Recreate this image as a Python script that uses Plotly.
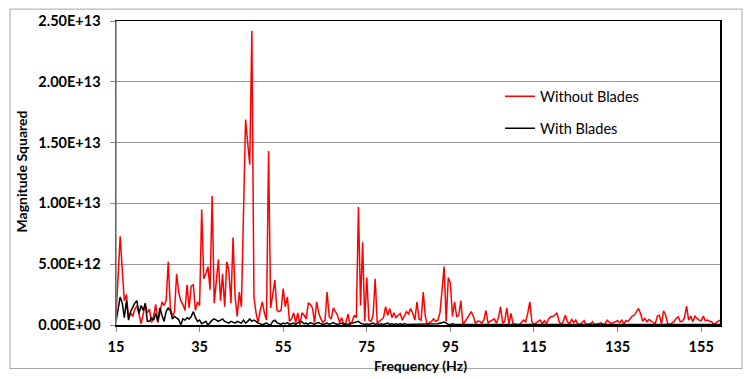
import plotly.graph_objects as go

# Frequency grid (Hz), 0.5 Hz resolution
freq_start = 15.0
freq_step = 0.5

# Magnitude squared, in units of 1E12
without_blades = [
    0.7, 3.5, 7.3, 4.5, 2.0, 2.5, 0.6, 1.0, 0.7, 1.3,
    1.6, 0.9, 0.1, 0.9, 1.7, 1.0, 1.3, 0.2, 0.7, 1.7,
    0.2, 1.0, 1.9, 1.6, 2.0, 5.2, 1.4, 0.7, 1.1, 4.2,
    2.7, 2.0, 1.7, 1.2, 3.3, 1.4, 3.2, 3.3, 1.2, 1.9,
    1.6, 9.5, 3.8, 4.2, 4.8, 2.9, 10.6, 1.8, 3.5, 5.4,
    2.0, 4.2, 1.5, 5.2, 4.5, 1.8, 7.2, 2.3, 0.7, 2.7,
    1.5, 9.0, 16.9, 15.0, 13.2, 24.2, 2.3, 1.0, 0.2, 1.2,
    1.9, 1.0, 0.4, 14.3, 1.4, 2.5, 3.7, 1.2, 1.1, 1.2,
    3.0, 1.5, 2.3, 0.3, 0.5, 1.0, 0.2, 1.0, 0.0, 1.0,
    0.8, 0.5, 1.8, 1.7, 1.4, 0.2, 1.9, 1.0, 0.5, 0.2,
    0.4, 2.7, 0.7, 0.5, 1.4, 1.1, 0.8, 0.2, 0.6, 0.0,
    0.2, 0.9, 0.0, 0.3, 0.8, 0.6, 9.7, 1.6, 6.8, 0.3,
    3.9, 0.4, 0.3, 0.8, 3.8, 0.15, 0.3, 0.4, 0.6, 1.5,
    0.8, 1.35, 0.6, 1.0, 0.6, 0.8, 0.95, 0.4, 0.8, 1.1,
    0.9, 1.35, 0.95, 0.4, 1.9, 0.5, 0.4, 2.7, 0.7, 0.0,
    0.2, 0.3, 0.5, 0.3, 0.4, 1.0, 2.85, 4.8, 0.3, 3.9,
    3.4, 0.7, 1.9, 0.7, 0.8, 2.0, 0.0, 0.3, 0.5, 0.8,
    1.1, 0.7, 0.15, 0.3, 0.3, 0.15, 0.4, 1.2, 0.15, 0.3,
    0.4, 0.5, 0.15, 0.6, 1.5, 0.15, 0.3, 1.4, 0.1, 0.95,
    0.05, 0.1, 0.0, 0.05, 0.2, 0.4, 0.27, 0.95, 1.9, 0.27,
    0.05, 0.15, 0.27, 0.4, 0.1, 0.35, 0.1, 0.5, 0.68, 0.7,
    0.8, 1.0, 0.27, 0.05, 0.3, 0.8, 0.27, 0.1, 0.45, 0.2,
    0.4, 0.1, 0.05, 0.2, 0.35, 0.0, 0.1, 0.1, 0.27, 0.0,
    0.1, 0.1, 0.2, 0.05, 0.1, 0.4, 0.27, 0.1, 0.19, 0.3,
    0.35, 0.19, 0.4, 0.1, 0.35, 0.3, 0.5, 0.73, 0.8, 1.14,
    1.36, 0.95, 0.3, 0.54, 0.27, 0.46, 0.35, 0.2, 0.1, 0.73,
    0.8, 0.1, 1.17, 0.8, 0.1, 0.05, 0.15, 0.27, 0.54, 0.68,
    0.27, 0.3, 0.6, 1.55, 0.4, 0.73, 0.27, 0.73, 0.54, 0.4,
    0.35, 0.73, 0.35, 0.4, 0.3, 0.27, 0.05, 0.19, 0.3, 0.4,
]

with_blades = [
    0.3, 1.5, 2.3, 1.8, 0.6, 2.0, 0.4, 1.1, 1.5, 1.8,
    2.0, 0.95, 1.6, 1.2, 1.8, 0.3, 0.3, 0.6, 0.4, 0.95,
    0.3, 1.4, 0.8, 0.3, 1.1, 1.4, 1.2, 0.5, 0.7, 0.6,
    0.45, 0.0, 0.5, 0.4, 0.6, 0.5, 0.7, 1.1, 0.6, 0.3,
    0.4, 0.1, 0.2, 0.3, 0.0, 0.2, 0.4, 0.5, 0.4, 0.3,
    0.4, 0.5, 0.3, 0.2, 0.15, 0.3, 0.2, 0.15, 0.3, 0.2,
    0.15, 0.4, 0.15, 0.3, 0.5, 0.3, 0.4, 0.3, 0.15, 0.1,
    0.0, 0.1, 0.15, 0.05, 0.0, 0.3, 0.4, 0.2, 0.1, 0.05,
    0.15, 0.1, 0.2, 0.05, 0.1, 0.15, 0.05, 0.2, 0.3, 0.25,
    0.1, 0.15, 0.05, 0.2, 0.1, 0.05, 0.15, 0.2, 0.1, 0.05,
    0.1, 0.15, 0.05, 0.1, 0.2, 0.1, 0.05, 0.1, 0.15, 0.05,
    0.1, 0.05, 0.1, 0.15, 0.2, 0.25, 0.3, 0.15, 0.1, 0.05,
    0.1, 0.05, 0.1, 0.15, 0.05, 0.1, 0.05, 0.1, 0.05, 0.1,
    0.15, 0.05, 0.1, 0.05, 0.1, 0.05, 0.1, 0.05, 0.1, 0.05,
    0.05, 0.1, 0.05, 0.1, 0.05, 0.1, 0.05, 0.1, 0.05, 0.05,
    0.1, 0.05, 0.1, 0.05, 0.1, 0.15, 0.2, 0.25, 0.15, 0.05,
    0.05, 0.1, 0.05, 0.05, 0.1, 0.05, 0.05, 0.1, 0.05, 0.05,
    0.05, 0.1, 0.05, 0.05, 0.1, 0.05, 0.05, 0.05, 0.1, 0.05,
    0.05, 0.05, 0.1, 0.05, 0.05, 0.05, 0.1, 0.05, 0.05, 0.05,
    0.1, 0.05, 0.05, 0.05, 0.05, 0.1, 0.05, 0.05, 0.05, 0.05,
    0.05, 0.1, 0.05, 0.05, 0.05, 0.1, 0.05, 0.05, 0.1, 0.05,
    0.05, 0.05, 0.1, 0.05, 0.05, 0.05, 0.05, 0.1, 0.05, 0.05,
    0.05, 0.05, 0.05, 0.1, 0.05, 0.05, 0.05, 0.05, 0.05, 0.1,
    0.05, 0.05, 0.05, 0.05, 0.1, 0.05, 0.05, 0.05, 0.05, 0.05,
    0.1, 0.05, 0.05, 0.05, 0.05, 0.05, 0.1, 0.05, 0.05, 0.05,
    0.05, 0.05, 0.1, 0.05, 0.05, 0.05, 0.05, 0.05, 0.05, 0.1,
    0.05, 0.05, 0.05, 0.05, 0.05, 0.1, 0.05, 0.05, 0.05, 0.05,
    0.05, 0.05, 0.1, 0.05, 0.05, 0.05, 0.05, 0.05, 0.05, 0.05,
    0.1, 0.05, 0.05, 0.05, 0.05, 0.05, 0.05, 0.1, 0.05, 0.05,
]

x_ticks = [15, 35, 55, 75, 95, 115, 135, 155]
y_ticks = [0, 5e12, 1e13, 1.5e13, 2e13, 2.5e13]
y_ticklabels = ["0.00E+00", "5.00E+12", "1.00E+13", "1.50E+13", "2.00E+13", "2.50E+13"]

series_names = ["Without Blades", "With Blades"]
series_colors = ["#FF0000", "#000000"]

freqs = [freq_start + freq_step * i for i in range(len(without_blades))]
scale = 1e12

FONT = "Lato"

fig = go.Figure()
for name, vals, col in zip(series_names, [without_blades, with_blades], series_colors):
    fig.add_trace(go.Scatter(
        x=freqs, y=[v * scale for v in vals], mode="lines", name=name,
        legendgroup=name,
        line=dict(color=col, width=1.5),
    ))

W, H = 751, 379
ml, mr, mt, mb = 116, 31, 18, 54
pw, ph = W - ml - mr, H - mt - mb

def px_x(px):
    return (px - ml) / pw

def px_y(py):
    return (H - mb - py) / ph

fig.update_layout(
    width=W, height=H,
    margin=dict(l=ml, r=mr, t=mt, b=mb),
    paper_bgcolor="white", plot_bgcolor="white",
    font=dict(family=FONT, size=14, color="#000000"),
    showlegend=True,
    legend=dict(
        x=px_x(500), y=px_y(78), xanchor="left", yanchor="top",
        bgcolor="rgba(0,0,0,0)", borderwidth=0,
        font=dict(family=FONT, size=14.5, color="#000000"),
        tracegroupgap=10,
    ),
    xaxis=dict(
        range=[freq_start, freq_start + freq_step * (len(without_blades) - 1)],
        tickmode="array", tickvals=x_ticks,
        ticktext=[f"<b>{t}</b>" for t in x_ticks],
        ticks="outside", ticklen=5, tickcolor="#868686",
        ticklabelstandoff=3,
        showgrid=False, zeroline=False,
        showline=True, linecolor="#000000", linewidth=1.5,
        mirror=True,
        tickfont=dict(family=FONT, size=14.5, color="#000000"),
    ),
    yaxis=dict(
        range=[0, 2.5e13],
        tickmode="array", tickvals=y_ticks,
        ticktext=[f"<b>{t}</b>" for t in y_ticklabels],
        ticks="outside", ticklen=5, tickcolor="#868686",
        ticklabelstandoff=6,
        showgrid=True, gridcolor="#9A9A9A", gridwidth=1,
        zeroline=False,
        showline=True, linecolor="#000000", linewidth=1.5,
        mirror=True,
        tickfont=dict(family=FONT, size=14.5, color="#000000"),
    ),
    shapes=[
        # outer chart border
        dict(type="rect", xref="paper", yref="paper",
             x0=px_x(10), x1=px_x(742), y0=px_y(369), y1=px_y(6),
             line=dict(color="#A6A6A6", width=1), layer="below"),
        # grey left axis line over the frame
        dict(type="line", xref="paper", yref="paper",
             x0=0, x1=0, y0=0, y1=1,
             line=dict(color="#868686", width=1.5)),
    ],
    annotations=[
        dict(text="<b>Magnitude Squared</b>", xref="paper", yref="paper",
             x=px_x(22), y=px_y(170), textangle=-90, showarrow=False,
             xanchor="center", yanchor="middle",
             font=dict(family=FONT, size=14, color="#000000")),
        dict(text="<b>Frequency (Hz)</b>", xref="paper", yref="paper",
             x=px_x(420), y=px_y(366), showarrow=False,
             xanchor="center", yanchor="middle",
             font=dict(family=FONT, size=14, color="#000000")),
    ],
)

fig.write_html(
    "out.html",
    config={"displayModeBar": False, "staticPlot": True},
    post_script="document.body.style.margin='0px';document.body.style.overflow='hidden';",
)
